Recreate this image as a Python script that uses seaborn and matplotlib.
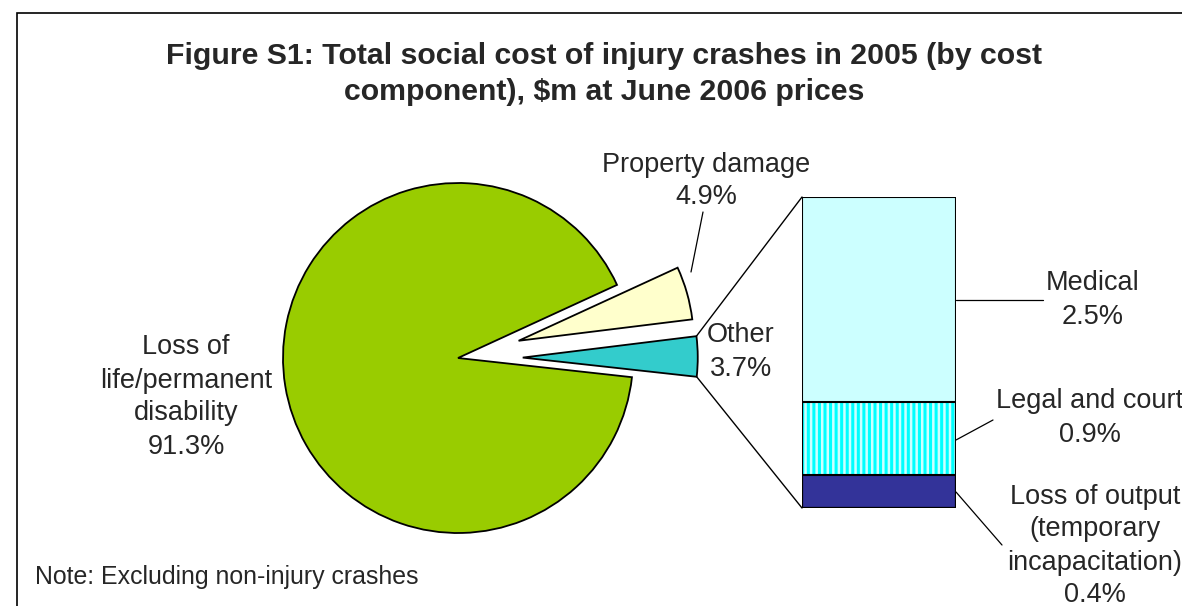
import matplotlib
matplotlib.use("Agg")
import matplotlib.pyplot as plt
from matplotlib.patches import ConnectionPatch, Rectangle
import seaborn as sns
import pandas as pd
import numpy as np

# pie slices (share of total social cost, %)
pie_labels = ['Loss of\nlife/permanent\ndisability', 'Property damage', 'Other']
pie_values = [91.3, 4.9, 3.7]
pie_colors = ['#99CC00', '#FFFFCC', '#33CCCC']

# breakdown of "Other" (bottom to top)
bar_labels = ['Loss of output\n(temporary\nincapacitation)', 'Legal and court', 'Medical']
bar_values = [0.4, 0.9, 2.5]
bar_colors = ['#333399', '#CCFFFF', '#CCFFFF']
bar_hatch = [None, '|||', None]

sns.set_style('white')
plt.rcParams['font.family'] = ['Liberation Sans', 'DejaVu Sans']
plt.rcParams['hatch.linewidth'] = 2.2

W, H = 1182, 606
fig = plt.figure(figsize=(W / 100, H / 100), dpi=100)


def fx(x):
    return x / W


def fy(y):
    return 1 - y / H


# outer frame like the Excel chart area
fig.patches.append(Rectangle((fx(17), fy(713)), fx(1300), 700 / H, fill=False,
                             ec='black', lw=1.2, transform=fig.transFigure))

fig.text(fx(604), fy(74), 'Figure S1: Total social cost of injury crashes in 2005 (by cost\ncomponent), $m at June 2006 prices',
         ha='center', va='center', fontsize=21.8, fontweight='bold', linespacing=1.35)

# pie
R = 175
cx, cy = 458, 358
ax = fig.add_axes([fx(cx - 1.5 * R), fy(cy + 1.5 * R), 3 * R / W, 3 * R / H])
wedges, _ = ax.pie(pie_values, colors=pie_colors, startangle=-6.3, counterclock=False,
                   explode=[0, 0.36, 0.37],
                   wedgeprops=dict(edgecolor='black', linewidth=1.3))
ax.set_xlim(-1.5, 1.5)
ax.set_ylim(-1.5, 1.5)
ax.set_aspect('auto')
ax.axis('off')

# stacked bar of "Other" components, drawn as overlapping cumulative bars
cum = pd.Series(bar_values).cumsum().tolist()
ax2 = fig.add_axes([fx(802), fy(508), 154 / W, 311 / H])
for i in reversed(range(len(bar_values))):
    sns.barplot(x=['Other'], y=[cum[i]], color=bar_colors[i], saturation=1, width=1,
                ax=ax2, edgecolor='black', linewidth=0)
patches = list(ax2.patches)[::-1]  # bottom segment first
for p, h in zip(patches, bar_hatch):
    if h:
        p.set_hatch(h)
        p.set_edgecolor('#00FFFF')
for p in patches:
    ax2.add_patch(Rectangle(p.get_xy(), p.get_width(), p.get_height(), fill=False,
                            ec='black', lw=1.5, zorder=5))
ax2.set_xlim(-0.5, 0.5)
ax2.set_ylim(0, cum[-1])
ax2.axis('off')

# connectors from the "Other" slice to the bar
other = wedges[2]
c = other.center
for ang, yb in [(other.theta2, 1), (other.theta1, 0)]:
    pt = (c[0] + other.r * np.cos(np.radians(ang)), c[1] + other.r * np.sin(np.radians(ang)))
    con = ConnectionPatch(xyA=pt, coordsA=ax.transData, xyB=(0, yb), coordsB=ax2.transAxes,
                          color='black', lw=1.0)
    fig.add_artist(con)

fs = 19.5
ls = 1.35
pcts = [f'{v}%' for v in pie_values]
fig.text(fx(186), fy(397), f'{pie_labels[0]}\n{pcts[0]}', ha='center', va='center', fontsize=fs, linespacing=ls)
fig.text(fx(706), fy(181), f'{pie_labels[1]}\n{pcts[1]}', ha='center', va='center', fontsize=fs, linespacing=ls)
fig.text(fx(741), fy(352), f'{pie_labels[2]}\n{pcts[2]}', ha='center', va='center', fontsize=fs, linespacing=ls)

bpcts = [f'{v}%' for v in bar_values]
fig.text(fx(1093), fy(300), f'{bar_labels[2]}\n{bpcts[2]}', ha='center', va='center', fontsize=fs, linespacing=ls)
fig.text(fx(1090), fy(418), f'{bar_labels[1]}\n{bpcts[1]}', ha='center', va='center', fontsize=fs, linespacing=ls)
fig.text(fx(1095), fy(546), f'{bar_labels[0]}\n{bpcts[0]}', ha='center', va='center', fontsize=fs, linespacing=ls)

# leader lines
for (x1, y1), (x2, y2) in [((691, 272), (703, 212)), ((956, 300), (1043, 300)),
                           ((956, 440), (993, 420)), ((956, 492), (1002, 545))]:
    fig.add_artist(plt.Line2D([fx(x1), fx(x2)], [fy(y1), fy(y2)], color='black', lw=0.9,
                              transform=fig.transFigure))

fig.text(fx(35), fy(577), 'Note: Excluding non-injury crashes', ha='left', va='center', fontsize=17.9)

fig.savefig('out.png', dpi=100)
